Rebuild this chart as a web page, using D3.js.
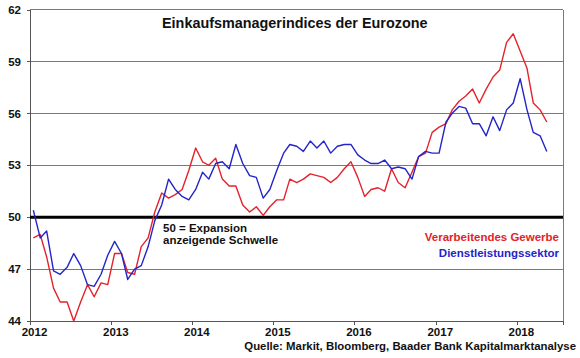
<!DOCTYPE html>
<html><head><meta charset="utf-8">
<script src="https://cdn.jsdelivr.net/npm/d3@7"></script>
<style>
html,body{margin:0;padding:0;background:#fff;}
svg{display:block;font-family:"Liberation Sans",Arial,sans-serif;}
</style></head>
<body>
<svg id="chart" width="580" height="358"></svg>
<script>
// Monthly data Jan 2012 – May 2018
const months = d3.timeMonth.range(new Date(2012,0,1), new Date(2018,5,1)).map(d => d3.timeFormat("%Y-%m")(d));
const manufacturing = [
  48.8,49.0,47.7,45.9,45.1,45.1,44.0,45.1,46.1,45.4,46.2,46.1,
  47.9,47.9,46.8,46.7,48.3,48.8,50.3,51.4,51.1,51.3,51.6,52.7,
  54.0,53.2,53.0,53.4,52.2,51.8,51.8,50.7,50.3,50.6,50.1,50.6,
  51.0,51.0,52.2,52.0,52.2,52.5,52.4,52.3,52.0,52.3,52.8,53.2,
  52.3,51.2,51.6,51.7,51.5,52.8,52.0,51.7,52.6,53.5,53.7,54.9,
  55.2,55.4,56.2,56.7,57.0,57.4,56.6,57.4,58.1,58.5,60.1,60.6,
  59.6,58.6,56.6,56.2,55.5
];
const services = [
  50.4,48.8,49.2,46.9,46.7,47.1,47.9,47.2,46.1,46.0,46.7,47.8,
  48.6,47.9,46.4,47.0,47.2,48.3,49.8,50.7,52.2,51.6,51.2,51.0,
  51.6,52.6,52.2,53.1,53.2,52.8,54.2,53.1,52.4,52.3,51.1,51.6,
  52.7,53.7,54.2,54.1,53.8,54.4,54.0,54.4,53.7,54.1,54.2,54.2,
  53.6,53.3,53.1,53.1,53.3,52.8,52.9,52.8,52.2,53.5,53.8,53.7,
  53.7,55.5,56.0,56.4,56.3,55.4,55.4,54.7,55.8,55.0,56.2,56.6,
  58.0,56.2,54.9,54.7,53.8
];
const yearTicks = ["2012","2013","2014","2015","2016","2017","2018"];
const yTicks = [44,47,50,53,56,59,62];
const seriesNames = ["Verarbeitendes Gewerbe","Dienstleistungssektor"];
const seriesColors = ["#e4222b","#2424c8"];
const thresholdValue = 50;
const titleText = "Einkaufsmanagerindices der Eurozone";
const noteLines = ["50 = Expansion","anzeigende Schwelle"];
const sourceText = "Quelle: Markit, Bloomberg, Baader Bank Kapitalmarktanalyse";

const svg = d3.select("#chart");
const L = 30, R = 563, T = 9.5, B = 321;
const parse = d3.timeParse("%Y-%m");
const x = d3.scaleTime().domain([new Date(2012,0,1), new Date(2018,6,28)]).range([L, R]);
const y = d3.scaleLinear().domain([44, 62]).range([B, T]);
const mid = s => { const d = parse(s); return new Date(d.getFullYear(), d.getMonth(), 16); };

// gridlines
svg.append("g").selectAll("line").data(yTicks.filter(v => v !== 44 && v !== thresholdValue))
  .join("line").attr("x1", L).attr("x2", R).attr("y1", d => y(d)).attr("y2", d => y(d))
  .attr("stroke", "#7a7a7a").attr("stroke-width", 1).attr("shape-rendering","crispEdges");
// right border
svg.append("line").attr("x1", R).attr("x2", R).attr("y1", T).attr("y2", B)
  .attr("stroke", "#7a7a7a").attr("stroke-width", 1).attr("shape-rendering","crispEdges");

// axes
const yAxis = d3.axisLeft(y).tickValues(yTicks).tickSize(3).tickPadding(5).tickFormat(d3.format("d"));
const gy = svg.append("g").attr("transform", `translate(${L},0)`).call(yAxis);
const xAxis = d3.axisBottom(x).tickValues(yearTicks.map(s => new Date(+s,0,1))).tickSize(4).tickPadding(3)
  .tickFormat(d3.timeFormat("%Y"));
const gx = svg.append("g").attr("transform", `translate(0,${B})`).call(xAxis);
[gx, gy].forEach(g => {
  g.select(".domain").attr("stroke", "#555").attr("shape-rendering","crispEdges");
  g.selectAll(".tick line").attr("stroke", "#555").attr("shape-rendering","crispEdges");
  g.selectAll("text").attr("font-family", '"Liberation Sans",Arial,sans-serif')
    .attr("font-size", 11.5).attr("font-weight", "bold").attr("fill", "#111");
});
gx.selectAll(".tick text").attr("dx", 4);
gy.selectAll(".tick text").attr("dx", -1);

// threshold
svg.append("line").attr("x1", L).attr("x2", R).attr("y1", y(thresholdValue)).attr("y2", y(thresholdValue))
  .attr("stroke", "#000").attr("stroke-width", 3);

// lines
const line = d3.line().x((d, i) => x(mid(months[i]))).y(d => y(d));
[manufacturing, services].forEach((s, k) => {
  svg.append("path").datum(s).attr("d", line).attr("fill", "none")
    .attr("stroke", seriesColors[k]).attr("stroke-width", 1.4).attr("stroke-linejoin","round");
});

// title
svg.append("text").attr("x", 162).attr("y", 28.3).attr("font-size", 14.4).attr("font-weight", "bold")
  .attr("fill", "#111").text(titleText);

// note
svg.append("g").selectAll("text").data(noteLines).join("text")
  .attr("x", 163).attr("y", (d, i) => 232 + i * 12).attr("font-size", 11.5).attr("font-weight", "bold")
  .attr("fill", "#111").text(d => d);

// legend
svg.append("g").selectAll("text").data(seriesNames).join("text")
  .attr("x", 559).attr("y", (d, i) => 241 + i * 15.5).attr("text-anchor", "end")
  .attr("font-size", 11.5).attr("font-weight", "bold").attr("fill", (d, i) => seriesColors[i]).text(d => d);

// source
svg.append("text").attr("x", 576).attr("y", 350).attr("text-anchor", "end")
  .attr("font-size", 11.4).attr("font-weight", "bold").attr("fill", "#111").text(sourceText);
</script>
</body></html>
